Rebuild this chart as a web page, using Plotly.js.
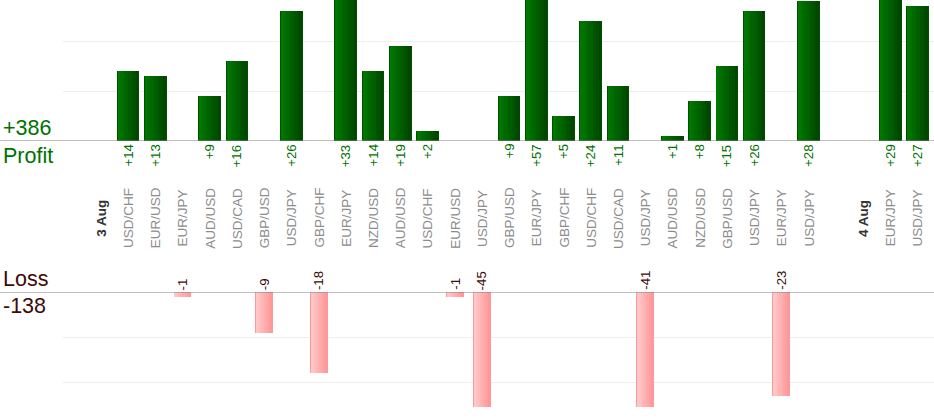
<!DOCTYPE html>
<html>
<head>
<meta charset="utf-8">
<script src="https://cdn.plot.ly/plotly-3.0.1.min.js"></script>
<style>
  html, body { margin: 0; padding: 0; background: #ffffff; }
  #chart { width: 934px; height: 420px; }
</style>
</head>
<body>
<div id="chart"></div>
<script>
// ---- data ----
var categories = ["3 Aug","USD/CHF","EUR/USD","EUR/JPY","AUD/USD","USD/CAD","GBP/USD","USD/JPY","GBP/CHF","EUR/JPY",
  "NZD/USD","AUD/USD","USD/CHF","EUR/USD","USD/JPY","GBP/USD","EUR/JPY","GBP/CHF","USD/CHF","USD/CAD",
  "USD/JPY","AUD/USD","NZD/USD","GBP/USD","USD/JPY","EUR/JPY","USD/JPY","","4 Aug","EUR/JPY","USD/JPY"];
var dateLabels = ["3 Aug","4 Aug"];
var profit = [null,14,13,null,9,16,null,26,null,33,
  14,19,2,null,null,9,57,5,24,11,
  null,1,8,15,26,null,28,null,null,29,27];
var loss = [null,null,null,-1,null,null,-9,null,-18,null,
  null,null,null,-1,-45,null,null,null,null,null,
  -41,null,null,null,null,-23,null,null,null,null,null];

// ---- derived ----
var idx = categories.map(function(_, i){ return i; });
var totalProfit = profit.reduce(function(s, v){ return s + (v || 0); }, 0);
var totalLoss = loss.reduce(function(s, v){ return s + (v || 0); }, 0);

var FONT = "Liberation Sans, Arial, sans-serif";
var GREEN_TXT = "#007200";
var LOSS_TXT = "#3d0a0a";

function lerp(a, b, t){ return Math.round(a + (b - a) * t); }
function rgb(c){ return "rgb(" + c[0] + "," + c[1] + "," + c[2] + ")"; }

// gradient bars built from slices of the same data
function sliced(values, yaxis, xaxis, width, c0, c1, n, border){
  var out = [];
  var xs = [], ys = [];
  values.forEach(function(v, i){ if (v !== null) { xs.push(idx[i]); ys.push(v); } });
  out.push({
    type: "bar", x: xs, y: ys, xaxis: xaxis, yaxis: yaxis,
    width: width, marker: { color: border, line: { width: 0 } },
    hoverinfo: "skip", showlegend: false
  });
  var inner = width - 0.07;
  for (var k = 0; k < n; k++) {
    var t = n === 1 ? 0 : k / (n - 1);
    var col = [lerp(c0[0], c1[0], t), lerp(c0[1], c1[1], t), lerp(c0[2], c1[2], t)];
    out.push({
      type: "bar", x: xs, y: ys, xaxis: xaxis, yaxis: yaxis,
      width: inner / n, offset: -inner / 2 + k * inner / n,
      marker: { color: rgb(col), line: { width: 0 } },
      hoverinfo: "skip", showlegend: false
    });
  }
  return out;
}

var traces = []
  .concat(sliced(profit, "y", "x", 0.835, [0, 0x78, 0], [0, 0x48, 0], 8, "#005000"))
  .concat(sliced(loss, "y2", "x2", 0.66, [255, 0xc8, 0xc8], [255, 0x98, 0x98], 8, "#ff9999"));

// ---- layout geometry ----
var W = 934, H = 420, ML = 63, MB = 13;
var plotH = H - MB;              // 407
var topBase = 141, lossBase = 292, lossBottom = 407;
var topDomain = [(plotH - topBase) / plotH, 1];
var botDomain = [(plotH - lossBottom) / plotH, (plotH - lossBase) / plotH];
var xr = [-1.39, 30.61];
var leftPaper = -ML / (W - ML);
var labelMid = (plotH - 218) / plotH;

var annotations = [];
profit.forEach(function(v, i){
  if (v === null) return;
  annotations.push({
    x: idx[i], y: 0, xref: "x", yref: "y", text: "+" + v, showarrow: false,
    textangle: -90, xanchor: "center", yanchor: "top", yshift: -1,
    font: { family: FONT, size: 13.3, color: GREEN_TXT }
  });
});
loss.forEach(function(v, i){
  if (v === null) return;
  annotations.push({
    x: idx[i], y: 0, xref: "x2", yref: "y2", text: String(v), showarrow: false,
    textangle: -90, xanchor: "center", yanchor: "bottom", yshift: 0,
    font: { family: FONT, size: 13.3, color: LOSS_TXT }
  });
});
categories.forEach(function(c, i){
  if (!c) return;
  var isDate = dateLabels.indexOf(c) >= 0;
  annotations.push({
    x: idx[i], y: labelMid, xref: "x", yref: "paper",
    text: isDate ? "<b>" + c + "</b>" : c, showarrow: false,
    textangle: -90, xanchor: "center", yanchor: "middle",
    font: { family: FONT, size: 13.5, color: isDate ? "#333333" : "#8c8c8c" }
  });
});
annotations.push(
  { x: leftPaper, y: 0, xref: "paper", yref: "y", text: "+" + totalProfit, showarrow: false,
    xanchor: "left", yanchor: "bottom", xshift: 1, yshift: -1,
    font: { family: FONT, size: 21.5, color: GREEN_TXT } },
  { x: leftPaper, y: 0, xref: "paper", yref: "y", text: "Profit", showarrow: false,
    xanchor: "left", yanchor: "top", xshift: 1, yshift: -1,
    font: { family: FONT, size: 21.5, color: GREEN_TXT } },
  { x: leftPaper, y: 0, xref: "paper", yref: "y2", text: "Loss", showarrow: false,
    xanchor: "left", yanchor: "bottom", xshift: 1, yshift: -1,
    font: { family: FONT, size: 21.5, color: LOSS_TXT } },
  { x: leftPaper, y: 0, xref: "paper", yref: "y2", text: String(totalLoss), showarrow: false,
    xanchor: "left", yanchor: "top", xshift: 1, yshift: 0,
    font: { family: FONT, size: 21.5, color: LOSS_TXT } }
);

var layout = {
  width: W, height: H,
  margin: { l: ML, r: 0, t: 0, b: MB, pad: 0 },
  paper_bgcolor: "#ffffff", plot_bgcolor: "#ffffff",
  barmode: "overlay", bargap: 0,
  showlegend: false,
  font: { family: FONT },
  xaxis: { range: xr, showgrid: false, zeroline: false, showticklabels: false, ticks: "", anchor: "y", fixedrange: true },
  xaxis2: { range: xr, showgrid: false, zeroline: false, showticklabels: false, ticks: "", anchor: "y2", fixedrange: true },
  yaxis: { domain: topDomain, range: [0, 28.2], tickvals: [10, 20], showticklabels: false, ticks: "",
           gridcolor: "#eeeeee", gridwidth: 1, zeroline: false, fixedrange: true },
  yaxis2: { domain: botDomain, range: [-25.55, 0], tickvals: [-10, -20], showticklabels: false, ticks: "",
            gridcolor: "#eeeeee", gridwidth: 1, zeroline: false, fixedrange: true },
  shapes: [
    { type: "line", xref: "paper", yref: "y", x0: leftPaper, x1: 1, y0: 0, y1: 0,
      line: { color: "#808080", width: 1.2 }, layer: "above" },
    { type: "line", xref: "paper", yref: "y2", x0: leftPaper, x1: 1, y0: 0, y1: 0,
      line: { color: "#808080", width: 1.2 }, layer: "above" }
  ],
  annotations: annotations
};

Plotly.newPlot("chart", traces, layout, { displayModeBar: false, staticPlot: true });
</script>
</body>
</html>
